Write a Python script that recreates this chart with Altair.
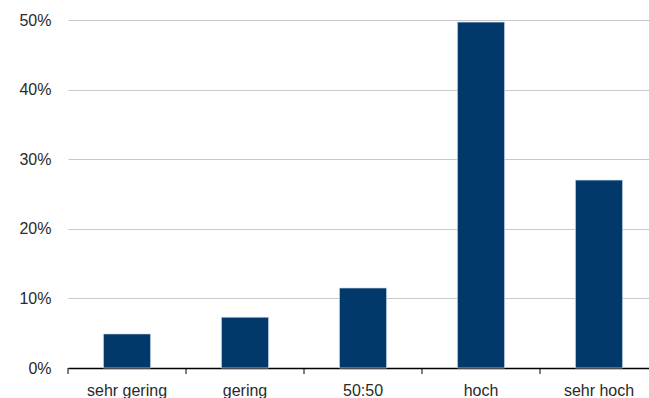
import altair as alt
import pandas as pd

categories = ["sehr gering", "gering", "50:50", "hoch", "sehr hoch"]
values = [0.049, 0.073, 0.115, 0.497, 0.270]

df = pd.DataFrame({"kategorie": categories, "anteil": values})

xscale = alt.Scale(range=[0, 590], paddingInner=0.6, paddingOuter=0.3)

bars = alt.Chart(df).mark_bar(
    color="#03386A", stroke="#cfe0ef", strokeWidth=0.7
).encode(
    x=alt.X("kategorie:N", sort=categories, title=None, scale=xscale,
            axis=alt.Axis(labelAngle=0, domainColor="#000", ticks=False,
                          labelPadding=14,
                          labelFontSize=16, labelColor="#2a2a2a", labelFont="Liberation Sans",
                          domainWidth=1.5, grid=False)),
    y=alt.Y("anteil:Q", title=None,
            scale=alt.Scale(domain=[0, 0.5], nice=False),
            axis=alt.Axis(values=[0, 0.1, 0.2, 0.3, 0.4, 0.5], format=".0%",
                          domain=False, ticks=False, labelPadding=17,
                          labelFontSize=16, labelColor="#2a2a2a", labelFont="Liberation Sans",
                          gridColor="#c8c8c8", gridWidth=1)),
)

ticks = alt.Chart(df).mark_rule(color="#000", strokeWidth=1, xOffset=-35.4).encode(
    x=alt.X("kategorie:N", sort=categories, scale=xscale, bandPosition=0),
    y=alt.value(348),
    y2=alt.value(354),
)

chart = alt.layer(bars, ticks).properties(
    width=581, height=348,
    autosize=alt.AutoSizeParams(type="none"),
    padding={"left": 68, "top": 20, "right": 0, "bottom": 30},
).configure_view(stroke=None)

chart.save("out.html", embed_options={"renderer": "svg", "actions": False})
